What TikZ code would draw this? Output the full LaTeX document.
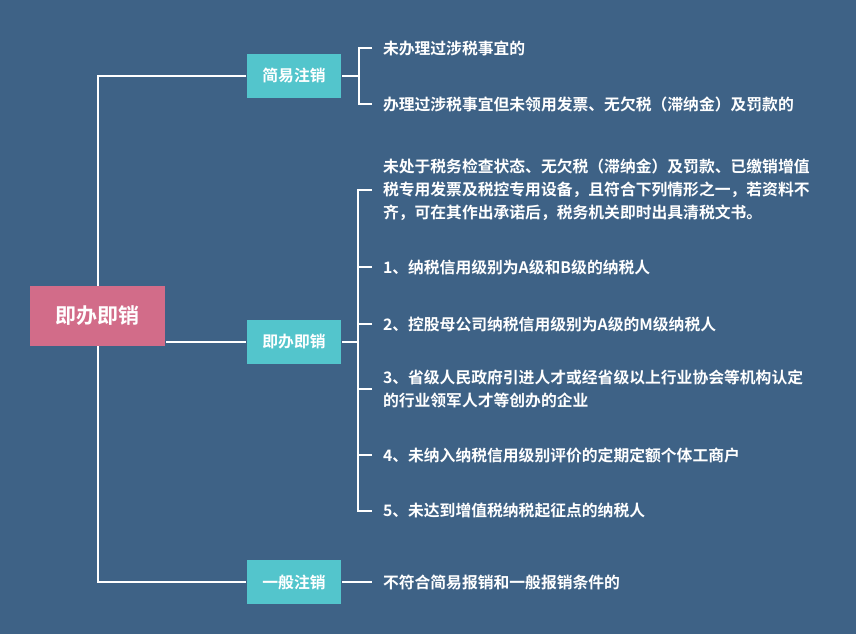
\documentclass[tikz,border=0pt]{standalone}
\usepackage{fontspec}
\setmainfont{Noto Sans CJK SC}[BoldFont={Noto Sans CJK SC Bold}]
\usetikzlibrary{positioning}
\definecolor{bgblue}{RGB}{62,98,134}
\definecolor{rootpink}{RGB}{210,108,137}
\definecolor{brcyan}{RGB}{83,197,204}
\begin{document}
\begin{tikzpicture}[x=1pt, y=-1pt, line width=2pt, draw=white,
	   font=\bfseries\fontsize{15.8}{23}\selectfont,
	   rt/.style={fill=rootpink, text=white, minimum width=135pt, minimum height=60pt,
	              font=\bfseries\fontsize{21}{25}\selectfont},
	   br/.style={fill=brcyan, text=white, minimum width=94pt, minimum height=44pt},
	   lf/.style={anchor=west, text=white, inner xsep=10pt, align=left}]
	  \fill[bgblue] (0,0) rectangle (856,634);
	  % root and branches
	  \node[br] (jy) at (294,76) {简易注销};
	  \node[br] (jb) at (294,342) {即办即销};
	  \node[br] (yb) at (294,582) {一般注销};
	  \draw (jy.west) -| (97.5,316);
	  \draw (yb.west) -| (97.5,316);
	  \node[rt] (R) at (97.5,316) {即办即销};
	  \draw (R.east |- jb.west) -- (jb.west);
	  % 简易注销
	  \node[lf] (s1) at (372,48) {未办理过涉税事宜的};
	  \node[lf] (s2) at (372,104) {办理过涉税事宜但未领用发票、无欠税（滞纳金）及罚款的};
	  \draw (jy.east) -- ++(17,0) coordinate (ks);
	  \draw (s1.west) -| (ks) |- (s2.west);
	  % 即办即销
	  \node[lf] (p) at (372,190) {未处于税务检查状态、无欠税（滞纳金）及罚款、已缴销增值\\
	    税专用发票及税控专用设备，且符合下列情形之一，若资料不\\
	    齐，可在其作出承诺后，税务机关即时出具清税文书。};
	  \node[lf] (m1) at (372,267) {1、纳税信用级别为A级和B级的纳税人};
	  \node[lf] (m2) at (372,324) {2、控股母公司纳税信用级别为A级的M级纳税人};
	  \node[lf] (m3) at (372,389) {3、省级人民政府引进人才或经省级以上行业协会等机构认定\\
	    的行业领军人才等创办的企业};
	  \node[lf] (m4) at (372,455) {4、未纳入纳税信用级别评价的定期定额个体工商户};
	  \node[lf] (m5) at (372,511) {5、未达到增值税纳税起征点的纳税人};
	  \draw (jb.east) -- ++(16,0) coordinate (km);
	  \draw (p.west) -| (km) |- (m5.west);
	  \foreach \m in {m1,m2,m3,m4}
	    \draw (\m.west) -- (\m.west -| km);
	  % 一般注销
	  \node[lf] (g1) at (372,582) {不符合简易报销和一般报销条件的};
	  \draw (yb.east) -- (g1.west);
	\end{tikzpicture}
\end{document}
